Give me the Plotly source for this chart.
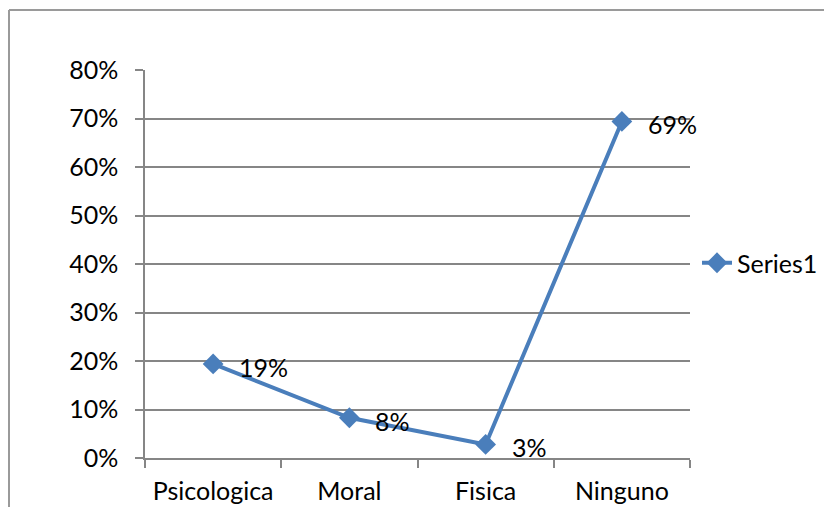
import plotly.graph_objects as go

categories = ["Psicologica", "Moral", "Fisica", "Ninguno"]
values = [0.194, 0.083, 0.028, 0.694]
labels = ["19%", "8%", "3%", "69%"]
series_name = "Series1"

# page is offset by the 8px body margin, so the figure is drawn 8px smaller
OFF = 8
W, H = 832 - OFF, 507 - OFF
PL, PR, PT, PB = 145, 690, 70, 458          # plot area in page pixels
L, R, T, B = PL - OFF, W - (PR - OFF), PT - OFF, H - (PB - OFF)
pw, ph = W - L - R, H - T - B

blue = "#4A7EBB"
grid = "#868686"
fam = "Lato, Carlito, Calibri, sans-serif"
font = dict(family=fam, size=25, color="#000000")


def px_x(px):
    return (px - OFF - L) / pw


def px_y(py):
    return (H - B - (py - OFF)) / ph


fig = go.Figure()
fig.add_trace(go.Scatter(
    x=categories, y=values, name=series_name,
    mode="lines+markers",
    line=dict(color=blue, width=4),
    marker=dict(symbol="diamond", size=16, color=blue),
    cliponaxis=False,
))

annotations = [
    dict(x=c, y=v, xref="x", yref="y", text=t, showarrow=False,
         xanchor="left", yanchor="middle", xshift=24, yshift=-3, font=font)
    for c, v, t in zip(categories, values, labels)
]

fig.update_layout(
    width=W, height=H,
    margin=dict(l=L, r=R, t=T, b=B, autoexpand=False),
    paper_bgcolor="white", plot_bgcolor="white",
    font=font,
    showlegend=True,
    legend=dict(x=px_x(697), y=px_y(263), xanchor="left", yanchor="middle",
                xref="paper", yref="paper", font=font, bgcolor="rgba(0,0,0,0)",
                itemwidth=30),
    xaxis=dict(
        type="category", range=[-0.5, 3.5],
        showgrid=False, showline=True, linecolor=grid, linewidth=1.5,
        ticks="outside", ticklen=8, tickcolor=grid, tickwidth=1.5,
        tickson="boundaries", tickfont=font, ticklabelstandoff=10,
    ),
    yaxis=dict(
        range=[0, 0.8], dtick=0.1, tickformat=".0%",
        showgrid=True, gridcolor=grid, gridwidth=1.5,
        showline=True, linecolor=grid, linewidth=1.5,
        ticks="outside", ticklen=8, tickcolor=grid, tickwidth=1.5,
        tickfont=font, zeroline=False, ticklabelstandoff=12,
    ),
    annotations=annotations,
    shapes=[
        dict(type="line", xref="paper", yref="paper",
             x0=px_x(9), x1=px_x(840), y0=px_y(10), y1=px_y(10),
             line=dict(color="#9a9a9a", width=2)),
        dict(type="line", xref="paper", yref="paper",
             x0=px_x(9), x1=px_x(9), y0=px_y(10), y1=px_y(515),
             line=dict(color="#9a9a9a", width=2)),
    ],
)

fig.write_html("out.html")
